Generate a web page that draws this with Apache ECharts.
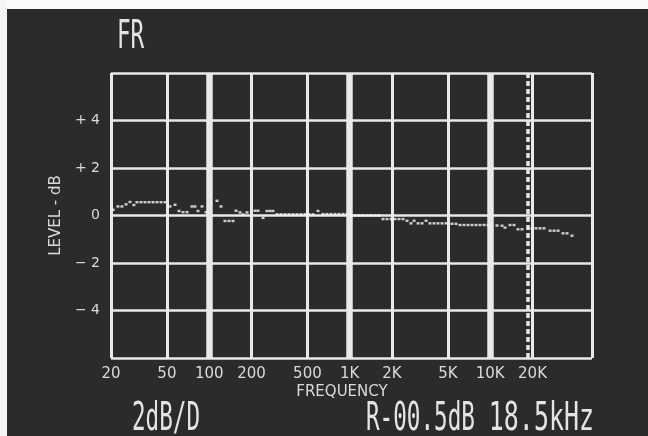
<!DOCTYPE html>
<html>
<head>
<meta charset="utf-8">
<script src="https://cdn.jsdelivr.net/npm/echarts@6/dist/echarts.min.js"></script>
<style>
  html, body { margin: 0; padding: 0; background: #ffffff; }
  #chart { width: 648px; height: 436px; }
</style>
</head>
<body>
<div id="chart"></div>
<script>
// Frequency response (Hz) and level (dB)
const freqs = [20.7, 22.4, 23.9, 25.6, 27.3, 29.1, 30.6, 32.7, 34.9, 37.3, 39.8, 42.5, 45.4, 48.5,
  52.6, 57.1, 61.0, 65.1, 69.5, 75.4, 79.2, 83.2, 88.9, 94.9,
  113.6, 121.3, 129.5, 138.3, 147.7, 155.2, 165.7, 174.1, 185.9,
  211.8, 222.4, 241.5, 257.8, 271, 284.6, 303.8, 324.3, 346.3, 369.7, 394.7, 421.5, 450, 480.5, 513, 548,
  594.6, 645.5, 689, 736, 786, 839, 896, 956,
  1021, 1090, 1164, 1243, 1327, 1417, 1513, 1615,
  1725, 1842, 1967, 2100, 2243, 2395, 2557, 2730, 2871, 3065, 3273, 3495, 3725, 3980, 4250, 4538, 4845,
  5345, 5710, 6095, 6510, 6950, 7420, 7925, 8460, 9035, 9645,
  11170, 12130, 12740, 13830, 14770, 15770, 16830,
  19830, 21180, 22600, 24140, 26660, 28460, 30380, 32960, 35200, 38180];
const levels = [0.24, 0.38, 0.38, 0.47, 0.57, 0.44, 0.56, 0.56, 0.56, 0.56, 0.56, 0.56, 0.56, 0.56,
  0.38, 0.45, 0.19, 0.14, 0.14, 0.38, 0.38, 0.19, 0.38, 0.14,
  0.62, 0.38, -0.23, -0.23, -0.23, 0.2, 0.13, 0.04, 0.13,
  0.2, 0.2, -0.1, 0.19, 0.19, 0.19, 0.05, 0.05, 0.05, 0.05, 0.05, 0.05, 0.05, 0.05, 0.05, 0.05,
  0.19, 0.06, 0.06, 0.06, 0.06, 0.06, 0.06, 0.06,
  0, 0, 0, 0, 0, 0, 0, 0,
  -0.15, -0.15, -0.15, -0.15, -0.15, -0.15, -0.22, -0.33, -0.22, -0.33, -0.33, -0.22, -0.33, -0.33, -0.33, -0.33, -0.33,
  -0.35, -0.35, -0.4, -0.4, -0.4, -0.4, -0.4, -0.4, -0.4, -0.4,
  -0.42, -0.43, -0.51, -0.4, -0.4, -0.58, -0.58,
  -0.54, -0.54, -0.54, -0.54, -0.64, -0.64, -0.64, -0.75, -0.75, -0.85];

// Frequency grid lines and their labels
const tickFreqs = [20, 50, 100, 200, 500, 1000, 2000, 5000, 10000, 20000];
const tickLabels = ['20', '50', '100', '200', '500', '1K', '2K', '5K', '10K', '20K'];
const thickFreqs = [100, 1000, 10000];
const freqMin = 20, freqMax = 53000;
const cursorFreq = 18500;

// Level axis
const levelMin = -6, levelMax = 6, levelStep = 2;

// Screen texts
const titleText = 'FR';
const scaleText = '2dB/D';
const readLevelText = 'R-00.5dB';
const readFreqText = '18.5kHz';
const xName = 'FREQUENCY';
const yName = 'LEVEL - dB';

const LINE = '#e9e9e9';
const TEXT = '#dadada';
const BG = '#2b2b2b';

const chart = echarts.init(document.getElementById('chart'), null, { renderer: 'canvas' });

const gridMarks = tickFreqs.map((f, i) => ({
  xAxis: f,
  name: tickLabels[i],
  lineStyle: { width: thickFreqs.includes(f) ? 6.5 : 3, color: LINE, type: 'solid' }
}));
gridMarks.push({ xAxis: freqMax, name: '', label: { show: false }, lineStyle: { width: 3, color: LINE, type: 'solid' } });
gridMarks.push({ xAxis: cursorFreq, name: '', label: { show: false }, lineStyle: { width: 3.5, color: LINE, type: [5, 3] } });

const crtFont = 'DejaVu Sans Mono';
const crtSize = 39;
const crtScale = 0.58;

chart.setOption({
  backgroundColor: BG,
  animation: false,
  grid: { left: 111, top: 73, width: 481, height: 285, containLabel: false },
  xAxis: {
    type: 'log',
    logBase: 10,
    min: freqMin,
    max: freqMax,
    axisLine: { show: false },
    axisTick: { show: false },
    axisLabel: { show: false },
    splitLine: { show: false },
    minorSplitLine: { show: false }
  },
  yAxis: {
    type: 'value',
    min: levelMin,
    max: levelMax,
    interval: levelStep,
    name: yName,
    nameLocation: 'middle',
    nameGap: 45,
    nameRotate: 90,
    nameTextStyle: { color: TEXT, fontSize: 15, fontFamily: 'DejaVu Sans' },
    axisLine: { show: false },
    axisTick: { show: false },
    axisLabel: {
      color: TEXT,
      fontSize: 14,
      fontFamily: 'DejaVu Sans',
      margin: 11,
      formatter: function (v) {
        if (v === levelMin || v === levelMax) return '';
        if (v === 0) return '0';
        return (v > 0 ? '+ ' : '\u2212 ') + Math.abs(v);
      }
    },
    splitLine: { show: true, lineStyle: { color: LINE, width: 2.6 } }
  },
  series: [
    {
      type: 'line',
      data: [[freqMin, 0]],
      showSymbol: false,
      lineStyle: { opacity: 0 },
      silent: true,
      z: 3,
      markLine: {
        silent: true,
        symbol: ['none', 'none'],
        animation: false,
        label: {
          show: true,
          position: 'start',
          distance: 9,
          formatter: '{b}',
          color: TEXT,
          fontSize: 15,
          fontFamily: 'DejaVu Sans'
        },
        emphasis: { disabled: true },
        data: gridMarks
      }
    },
    {
      type: 'scatter',
      data: freqs.map((f, i) => [f, levels[i]]),
      symbol: 'rect',
      symbolSize: [3, 2.4],
      itemStyle: { color: '#f6f6f6' },
      silent: true,
      z: 5
    }
  ],
  graphic: [
    { type: 'rect', left: 0, top: 0, shape: { width: 648, height: 9 }, style: { fill: '#fafafa' }, z: 100, silent: true },
    { type: 'rect', left: 0, top: 0, shape: { width: 7, height: 436 }, style: { fill: '#f5f5f5' }, z: 100, silent: true },
    {
      type: 'text', x: 117, y: 38, scaleX: crtScale, silent: true,
      style: { text: titleText, fill: '#e4e4e4', font: crtSize + 'px "' + crtFont + '"', textAlign: 'left', textVerticalAlign: 'middle' }
    },
    {
      type: 'text', x: 342, y: 392, silent: true,
      style: { text: xName, fill: TEXT, font: '15px "DejaVu Sans"', textAlign: 'center', textVerticalAlign: 'middle' }
    },
    {
      type: 'text', x: 132, y: 420, scaleX: crtScale, silent: true,
      style: { text: scaleText, fill: '#e4e4e4', font: crtSize + 'px "' + crtFont + '"', textAlign: 'left', textVerticalAlign: 'middle' }
    },
    {
      type: 'text', x: 366, y: 420, scaleX: crtScale, silent: true,
      style: { text: readLevelText, fill: '#e4e4e4', font: crtSize + 'px "' + crtFont + '"', textAlign: 'left', textVerticalAlign: 'middle' }
    },
    {
      type: 'text', x: 594, y: 420, scaleX: 0.64, silent: true,
      style: { text: readFreqText, fill: '#e4e4e4', font: crtSize + 'px "' + crtFont + '"', textAlign: 'right', textVerticalAlign: 'middle' }
    }
  ]
});
</script>
</body>
</html>
